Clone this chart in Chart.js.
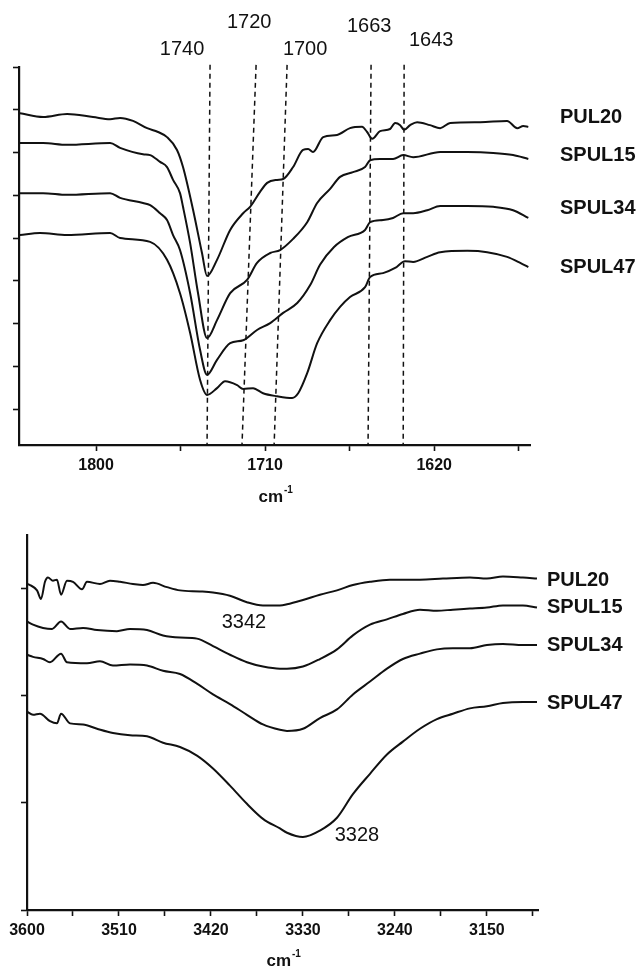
<!doctype html>
<html>
<head>
<meta charset="utf-8">
<title>FTIR spectra</title>
<script src="https://cdn.jsdelivr.net/npm/chart.js@4"></script>
<style>
  html, body { margin: 0; padding: 0; background: #fff; }
  .box { position: absolute; left: 0; }
  #top { top: 0; }
  #bot { top: 520px; }
</style>
</head>
<body>
<div class="box" id="top"><canvas id="c1" width="639" height="520"></canvas></div>
<div class="box" id="bot"><canvas id="c2" width="639" height="451"></canvas></div>
<script>
// Серии (порядок сверху вниз)
const seriesNames = ['PUL20', 'SPUL15', 'SPUL34', 'SPUL47'];

// --- верхний график: область C=O, [см-1, отн. ед.] ---
const pul20Top = [[1840.5,6.92],[1828.2,6.83],[1815.4,6.90],[1801.6,6.83],[1792.5,6.78],[1787.2,6.81],[1780.3,6.74],[1772.8,6.57],[1767.0,6.48],[1762.2,6.36],[1756.9,6.06],[1753.7,5.66],[1748.3,4.65],[1743.6,3.65],[1740.9,3.11],[1735.6,3.49],[1728.6,4.19],[1721.7,4.58],[1718.0,4.73],[1712.7,5.08],[1708.9,5.29],[1703.6,5.36],[1700.4,5.38],[1695.1,5.66],[1689.8,6.06],[1687.1,6.08],[1684.5,6.01],[1679.1,6.36],[1671.7,6.41],[1664.8,6.57],[1658.4,6.60],[1655.7,6.48],[1653.0,6.32],[1648.8,6.50],[1643.5,6.55],[1640.8,6.69],[1638.1,6.64],[1636.0,6.53],[1632.8,6.64],[1629.1,6.71],[1622.2,6.64],[1616.8,6.57],[1611.5,6.69],[1595.5,6.71],[1581.2,6.74],[1575.8,6.57],[1572.6,6.62],[1569.9,6.60]];
const spul15Top = [[1840.5,6.22],[1828.2,6.22],[1815.4,6.18],[1792.5,6.22],[1787.2,6.11],[1775.0,5.96],[1771.2,5.94],[1765.9,5.78],[1762.2,5.66],[1759.0,5.36],[1755.3,5.05],[1753.7,4.73],[1749.9,3.88],[1745.7,2.71],[1740.9,1.66],[1735.6,2.08],[1728.6,2.71],[1719.6,3.02],[1714.3,3.42],[1707.3,3.65],[1702.0,3.72],[1695.1,3.98],[1687.6,4.37],[1682.3,4.82],[1675.4,5.15],[1670.1,5.43],[1663.2,5.54],[1656.8,5.66],[1654.1,5.82],[1648.8,5.85],[1641.9,5.85],[1636.5,5.94],[1631.2,5.89],[1616.8,6.01],[1602.4,6.01],[1588.6,5.99],[1578.0,5.94],[1569.9,5.85]];
const spul34Top = [[1840.5,5.05],[1828.2,5.05],[1815.4,5.01],[1792.5,5.05],[1787.2,4.94],[1775.0,4.82],[1771.2,4.77],[1765.9,4.58],[1762.2,4.42],[1759.0,4.07],[1755.3,3.72],[1749.9,2.71],[1744.6,1.38],[1740.9,0.80],[1735.6,1.15],[1728.6,1.54],[1721.7,1.61],[1714.3,1.85],[1707.3,2.01],[1700.4,2.25],[1692.9,2.48],[1686.0,2.90],[1680.7,3.38],[1673.3,3.79],[1666.0,4.02],[1656.8,4.19],[1654.1,4.37],[1647.2,4.42],[1641.9,4.47],[1636.5,4.58],[1631.2,4.58],[1623.7,4.65],[1616.8,4.75],[1602.4,4.75],[1588.6,4.73],[1578.0,4.65],[1569.9,4.47]];
const spul47Top = [[1840.5,4.07],[1829.8,4.12],[1815.4,4.07],[1792.5,4.12],[1787.2,4.00],[1771.2,3.91],[1762.2,3.49],[1755.3,2.71],[1749.9,1.78],[1744.6,0.68],[1740.9,0.33],[1735.6,0.49],[1731.3,0.65],[1724.9,0.56],[1721.7,0.47],[1716.4,0.49],[1711.1,0.37],[1703.6,0.30],[1695.6,0.26],[1692.4,0.37],[1687.6,0.84],[1682.3,1.54],[1675.4,2.08],[1670.1,2.39],[1664.8,2.62],[1656.8,2.85],[1654.1,3.09],[1647.2,3.18],[1640.8,3.30],[1635.5,3.46],[1631.2,3.44],[1623.7,3.56],[1616.8,3.67],[1602.4,3.70],[1591.8,3.67],[1581.2,3.56],[1574.2,3.42],[1569.9,3.32]];

// Пунктирные линии пиков: положение вверху и внизу (линии чуть наклонены на исходнике)
const peakLabels = ['1740', '1720', '1700', '1663', '1643'];
const peakLineTop = [1739.3, 1714.8, 1698.3, 1653.6, 1636.0];
const peakLineBottom = [1740.9, 1722.3, 1705.2, 1655.2, 1636.5];

const topTicks = [1800, 1755, 1710, 1665, 1620, 1575];
const topTickLabels = [1800, 1710, 1620];
const topYTicks = [0, 1, 2, 3, 4, 5, 6, 7, 8];

// --- нижний график: область O-H ---
const pul20Bot = [[3600,3.04],[3597.1,3.03],[3590.2,2.98],[3586.3,2.90],[3582.4,3.06],[3579.5,3.10],[3574.6,3.07],[3570.7,3.08],[3566.7,2.94],[3560.9,3.07],[3555.0,3.06],[3546.2,2.99],[3541.3,3.06],[3528.6,3.04],[3518.8,3.07],[3509.0,3.06],[3496.3,3.04],[3486.5,3.03],[3476.7,3.05],[3463.0,3.01],[3450.3,2.98],[3430.8,2.97],[3418.0,2.96],[3401.4,2.93],[3384.8,2.87],[3369.1,2.84],[3352.5,2.84],[3345.6,2.85],[3330.0,2.89],[3313.4,2.94],[3296.7,2.98],[3281.1,3.03],[3264.4,3.06],[3244.9,3.08],[3232.2,3.08],[3215.5,3.08],[3193.0,3.09],[3166.6,3.10],[3150.0,3.09],[3134.3,3.11],[3114.8,3.10],[3101,3.09]];
const spul15Bot = [[3600,2.69],[3594.1,2.66],[3584.3,2.63],[3575.5,2.62],[3566.7,2.69],[3557.9,2.62],[3545.2,2.63],[3531.5,2.61],[3512.0,2.60],[3499.2,2.62],[3482.6,2.61],[3466.9,2.56],[3450.3,2.54],[3433.7,2.53],[3418.0,2.46],[3401.4,2.38],[3384.8,2.31],[3369.1,2.27],[3352.5,2.25],[3345.6,2.25],[3330.0,2.27],[3313.4,2.34],[3296.7,2.43],[3281.1,2.56],[3264.4,2.66],[3247.8,2.71],[3232.2,2.76],[3215.5,2.80],[3198.9,2.79],[3183.3,2.80],[3166.6,2.81],[3150.0,2.82],[3134.3,2.84],[3114.8,2.84],[3101,2.82]];
const spul34Bot = [[3600,2.38],[3594.1,2.36],[3584.3,2.34],[3577.5,2.31],[3566.7,2.39],[3560.9,2.31],[3541.3,2.30],[3528.6,2.32],[3515.9,2.28],[3499.2,2.29],[3482.6,2.28],[3466.9,2.23],[3450.3,2.20],[3433.7,2.11],[3418.0,2.01],[3401.4,1.92],[3384.8,1.82],[3369.1,1.73],[3352.5,1.68],[3345.6,1.67],[3330.0,1.69],[3313.4,1.79],[3296.7,1.87],[3281.1,2.01],[3264.4,2.13],[3247.8,2.25],[3232.2,2.34],[3215.5,2.39],[3198.9,2.43],[3183.3,2.44],[3166.6,2.44],[3150.0,2.47],[3134.3,2.48],[3114.8,2.47],[3101,2.47]];
const spul47Bot = [[3600,1.85],[3594.1,1.82],[3587.3,1.83],[3577.5,1.76],[3570.7,1.74],[3566.7,1.83],[3557.9,1.74],[3545.2,1.73],[3531.5,1.69],[3515.9,1.65],[3499.2,1.63],[3482.6,1.62],[3466.9,1.56],[3450.3,1.52],[3433.7,1.44],[3418.0,1.32],[3401.4,1.16],[3384.8,0.99],[3369.1,0.85],[3352.5,0.76],[3345.6,0.72],[3330.0,0.68],[3313.4,0.74],[3296.7,0.86],[3281.1,1.08],[3264.4,1.27],[3247.8,1.45],[3232.2,1.57],[3215.5,1.69],[3198.9,1.78],[3183.3,1.83],[3166.6,1.88],[3150.0,1.90],[3134.3,1.93],[3114.8,1.94],[3101,1.94]];

const botTicks = [3600, 3555, 3510, 3465, 3420, 3375, 3330, 3285, 3240, 3195, 3150, 3105];
const botTickLabels = [3600, 3510, 3420, 3330, 3240, 3150];
const botYTicks = [0, 1, 2, 3];

const FONT = '"Liberation Sans", Arial, sans-serif';
const INK = '#111';

const pts = (arr) => arr.map(([x, y]) => ({ x, y }));
const curve = (arr) => ({
  data: pts(arr), borderColor: INK, borderWidth: 2, pointRadius: 0,
  cubicInterpolationMode: 'monotone', fill: false,
});

// Подписи: пики, названия серий, заголовок оси (cm^-1)
const textLayer = {
  id: 'textLayer',
  afterDraw(chart, args, o) {
    const { ctx, chartArea: a, scales: { x, y } } = chart;
    ctx.save();
    ctx.fillStyle = INK;
    ctx.textBaseline = 'middle';
    ctx.font = '20px ' + FONT;
    ctx.textAlign = 'center';
    o.peaks.forEach((p) => ctx.fillText(p.text, x.getPixelForValue(p.w), y.getPixelForValue(p.v)));
    ctx.font = 'bold 20px ' + FONT;
    ctx.textAlign = 'left';
    seriesNames.forEach((n, i) => ctx.fillText(n, a.right + o.nameGap, y.getPixelForValue(o.nameAt[i])));
    const cy = a.bottom + o.titleDy;
    ctx.font = 'bold 17px ' + FONT;
    ctx.textAlign = 'right';
    ctx.fillText('cm', o.titleX, cy);
    ctx.font = 'bold 10px ' + FONT;
    ctx.textAlign = 'left';
    ctx.fillText('-1', o.titleX + 1, cy - 7);
    ctx.restore();
  },
};

function axisOpts(ticks, labeled, extra) {
  return Object.assign({
    type: 'linear',
    afterBuildTicks: (s) => { s.ticks = ticks.map((v) => ({ value: v })); },
    ticks: {
      autoSkip: false, maxRotation: 0, padding: 5, color: INK,
      font: { family: FONT, size: 16, weight: 'bold' },
      callback: (v) => (labeled && labeled.includes(v) ? String(v) : ''),
    },
    grid: { drawOnChartArea: false, drawTicks: true, tickLength: 6, tickWidth: 1.6, tickColor: INK },
    border: { display: true, color: INK, width: 2.2 },
  }, extra);
}

// верхний
const dashSets = peakLineTop.map((t, i) => ({
  data: [{ x: t, y: 8.05 }, { x: peakLineBottom[i], y: -0.84 }],
  borderColor: INK, borderWidth: 1.5, borderDash: [5, 4], pointRadius: 0, tension: 0, clip: false,
}));

new Chart(document.getElementById('c1'), {
  type: 'line',
  data: { datasets: [curve(pul20Top), curve(spul15Top), curve(spul34Top), curve(spul47Top), ...dashSets] },
  options: {
    responsive: false, animation: false, events: [],
    layout: { padding: { top: 67, right: 109, left: 0, bottom: 0 } },
    plugins: {
      legend: { display: false }, tooltip: { enabled: false },
      textLayer: {
        peaks: [
          { text: peakLabels[0], w: 1754.2, v: 8.42 },
          { text: peakLabels[1], w: 1718.5, v: 9.03 },
          { text: peakLabels[2], w: 1688.7, v: 8.42 },
          { text: peakLabels[3], w: 1654.6, v: 8.94 },
          { text: peakLabels[4], w: 1621.6, v: 8.63 },
        ],
        nameAt: [6.81, 5.92, 4.70, 3.32], nameGap: 30, titleX: 283, titleDy: 52,
      },
    },
    scales: {
      x: axisOpts(topTicks, topTickLabels, { reverse: true, min: 1569, max: 1841, afterFit: (s) => { s.height = 75; } }),
      y: axisOpts(topYTicks, null, { min: -0.84, max: 8, afterFit: (s) => { s.width = 19; } }),
    },
  },
  plugins: [textLayer],
});

// нижний
new Chart(document.getElementById('c2'), {
  type: 'line',
  data: { datasets: [curve(pul20Bot), curve(spul15Bot), curve(spul34Bot), curve(spul47Bot)] },
  options: {
    responsive: false, animation: false, events: [],
    layout: { padding: { top: 12, right: 101, left: 0, bottom: 0 } },
    plugins: {
      legend: { display: false }, tooltip: { enabled: false },
      textLayer: {
        peaks: [
          { text: '3342', w: 3387.7, v: 2.685 },
          { text: '3328', w: 3277.2, v: 0.694 },
        ],
        nameAt: [3.07, 2.82, 2.47, 1.93], nameGap: 9, titleX: 291, titleDy: 51,
      },
    },
    scales: {
      x: axisOpts(botTicks, botTickLabels, { reverse: true, min: 3100, max: 3600, afterFit: (s) => { s.height = 61; } }),
      y: axisOpts(botYTicks, null, { min: 0, max: 3.5, afterFit: (s) => { s.width = 27; } }),
    },
  },
  plugins: [textLayer],
});
</script>
</body>
</html>
